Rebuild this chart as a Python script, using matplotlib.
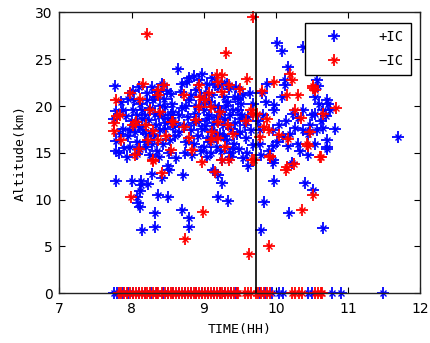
import matplotlib
matplotlib.use("Agg")
import matplotlib.pyplot as plt
from matplotlib.legend_handler import HandlerTuple

# +IC (blue) points: time (h), altitude (km)
blue_pts = [
    (7.77,22.1),(7.78,19.5),(7.76,18.6),(7.79,16.3),(7.78,15.2),(7.82,15.0),(7.79,12.0),
    (7.85,20.4),(7.88,17.6),(7.92,18.9),(7.95,16.8),(7.98,15.6),(8.02,21.6),(8.02,19.6),
    (8.05,17.2),(8.08,14.9),(8.10,17.8),(8.12,20.2),(8.15,19.6),(8.18,16.2),(8.20,15.6),
    (8.21,20.7),(8.24,18.5),(8.27,17.0),(8.30,20.7),(8.33,19.2),(8.35,15.2),(8.38,18.9),
    (8.40,17.4),(8.42,22.4),(8.43,16.0),(8.45,20.8),(8.47,19.9),(8.47,17.5),(8.50,18.6),
    (8.52,15.0),(8.55,21.3),(8.58,19.4),(8.60,18.2),(8.60,16.8),(8.62,14.5),(8.50,13.6),
    (8.64,24.0),(8.29,22.0),(8.10,22.0),(7.95,20.8),(8.00,18.4),(8.14,18.6),(8.25,14.8),
    (8.36,21.5),(8.44,19.0),(8.56,20.2),(8.08,16.2),(7.90,15.5),(8.31,16.8),(8.18,19.0),
    (7.84,17.0),(7.88,19.6),(7.93,14.6),(8.04,20.6),(8.12,15.4),(8.16,17.4),(8.22,21.4),
    (8.26,19.8),(8.28,16.0),(8.34,18.0),(8.38,14.6),(8.40,20.0),(8.46,18.2),(8.49,21.6),
    (8.53,16.4),(8.57,17.8),(7.98,17.4),(8.07,19.0),(8.20,17.0),(8.33,21.0),(8.54,19.0),
    (8.68,21.5),(8.70,19.8),(8.72,18.0),(8.75,16.2),(8.77,22.6),(8.80,20.6),(8.82,17.4),
    (8.84,14.8),(8.87,23.2),(8.88,19.2),(8.90,21.7),(8.92,16.8),(8.94,18.4),(8.96,15.2),
    (8.98,23.4),(9.00,20.2),(9.02,17.9),(9.04,22.4),(9.05,14.6),(9.07,19.0),(9.09,16.2),
    (9.11,21.2),(9.12,23.0),(9.14,18.2),(9.16,20.0),(9.18,15.6),(9.20,22.0),(9.22,17.0),
    (9.24,19.4),(9.26,14.2),(9.28,21.0),(9.30,18.6),(9.32,16.4),(9.34,20.4),(9.36,15.0),
    (9.38,17.6),(9.40,19.6),(9.42,16.0),(9.44,18.2),(9.47,20.8),(9.49,15.4),(9.51,17.2),
    (9.53,19.0),(9.55,14.4),(9.58,16.6),(9.62,18.8),(9.66,17.4),(9.69,15.8),(9.68,20.2),
    (8.66,17.2),(8.74,15.0),(8.86,18.2),(8.96,21.0),(9.06,16.6),(9.13,13.2),(9.20,12.6),
    (9.00,19.6),(9.10,15.0),(9.26,22.6),(9.35,21.8),(9.45,22.0),(9.55,21.2),(9.28,16.8),
    (9.38,14.6),(8.80,23.0),(9.62,13.6),
    (8.66,19.0),(8.70,22.4),(8.78,18.8),(8.83,21.2),(8.86,16.0),(8.90,20.0),(8.93,22.8),
    (8.97,17.6),(9.01,15.6),(9.03,21.4),(9.08,20.4),(9.12,17.4),(9.15,22.2),(9.17,16.8),
    (9.21,19.8),(9.24,15.2),(9.27,18.0),(9.31,20.0),(9.33,22.4),(9.36,19.0),(9.40,15.4),
    (9.43,21.0),(9.46,17.0),(9.50,18.6),(9.52,20.2),(9.57,18.0),(9.60,15.0),(9.64,21.4),
    (9.04,18.6),(9.18,18.8),(8.76,20.0),(9.48,19.6),
    (8.00,12.0),(8.13,12.0),(8.13,11.6),(8.23,11.7),(8.28,12.7),(8.42,12.3),(8.52,13.2),
    (8.71,12.6),(8.12,10.9),(8.07,10.3),(8.09,9.6),(8.11,9.2),(8.37,10.5),(8.51,10.3),
    (8.32,8.6),(8.15,6.8),(8.32,7.1),(8.70,8.9),(8.80,8.0),(8.79,7.1),(9.20,10.3),
    (9.34,9.9),(9.25,11.8),
    (9.98,12.0),(9.84,9.8),(9.79,6.8),(10.19,8.6),(10.41,11.8),(10.52,11.0),(10.66,7.0),
    (9.96,13.9),(10.71,15.6),(10.01,26.7),(10.08,25.9),(10.38,26.3),(11.70,16.7),(10.17,24.2),
    (10.13,22.8),(9.88,22.4),(9.81,21.4),(9.97,20.1),(10.08,21.0),(10.13,22.2),(10.57,22.8),
    (10.59,22.1),(10.54,21.0),(10.71,20.7),(10.73,20.2),(10.75,19.6),(10.70,18.9),(10.55,19.2),
    (10.38,19.6),(10.31,18.7),(10.24,19.2),(10.14,18.4),(9.98,19.6),(9.82,19.0),(9.78,17.4),
    (9.96,17.4),(10.10,16.7),(10.26,17.7),(10.38,17.4),(10.57,17.4),(10.66,17.7),(10.82,17.6),
    (10.71,16.4),(10.55,16.0),(10.71,15.4),(10.31,16.0),(10.17,15.7),(9.96,15.7),(9.78,16.0),
    (9.96,14.2),(9.80,14.8),(10.22,13.9),(10.45,14.8),(10.62,18.4),(10.48,18.0),(10.05,18.0),
    (9.86,20.4),(9.90,15.2),(10.02,16.2),(10.20,17.0),(10.34,15.2),(10.44,17.0),(10.60,20.2),
    (10.66,19.6),(10.50,19.0),(9.76,18.4),
]

# -IC (red) points: time (h), altitude (km)
red_pts = [
    (9.69,29.5),(8.22,27.7),(9.31,25.7),(9.60,22.9),
    (8.16,22.4),(7.79,20.6),(7.98,21.4),(8.37,21.7),(8.37,21.2),(7.84,19.0),(7.75,18.2),
    (7.75,17.3),(8.02,18.0),(8.06,18.3),(8.26,19.6),(8.30,17.3),(8.37,16.4),(8.23,16.4),
    (7.86,16.4),(8.56,18.3),(8.05,14.8),(8.30,14.2),(8.55,15.3),(7.80,18.9),(8.12,20.8),
    (8.45,22.3),(8.20,18.0),(8.48,16.8),(8.10,15.4),(8.40,19.4),
    (9.18,23.3),(9.25,23.3),(9.20,22.6),(8.93,22.3),(9.35,22.3),(8.72,21.2),(9.07,21.4),
    (9.26,21.5),(8.93,19.9),(9.10,19.9),(9.23,19.4),(8.58,18.3),(8.72,17.8),(8.90,18.5),
    (9.20,18.3),(9.34,18.0),(8.79,16.6),(9.10,16.4),(9.20,16.6),(8.84,15.3),(9.25,14.2),
    (9.35,14.2),(9.67,14.2),(9.65,19.6),(9.68,19.2),(9.02,20.6),(9.40,17.0),(8.98,14.0),
    (9.50,21.8),(9.12,17.2),(9.58,18.4),(8.95,21.0),(9.30,15.6),
    (7.99,10.3),(8.42,12.9),(8.30,14.1),(8.99,8.7),(8.74,5.8),(9.16,13.0),(9.63,4.2),
    (9.91,5.0),(10.36,8.9),(10.51,10.5),(10.14,13.2),(10.25,13.8),(9.70,14.2),(9.92,14.7),
    (10.61,14.6),
    (10.20,23.4),(10.22,22.8),(9.98,22.6),(9.81,21.6),(10.15,21.2),(10.31,21.2),(10.52,22.1),
    (10.54,21.7),(10.84,19.8),(10.66,19.2),(10.26,19.6),(10.35,18.7),(9.74,19.2),(9.88,18.6),
    (9.83,17.8),(9.90,17.4),(9.78,16.7),(10.05,16.9),(10.17,16.5),(10.48,17.2),(10.43,16.0),
    (10.45,15.7),(10.63,14.6),(9.92,14.6),(10.15,13.5),(10.52,21.9),
]

# points on the ground (altitude 0)
blue_ground_time = [7.75, 7.80, 7.88, 7.95, 8.02, 8.10, 8.18, 8.27, 8.35, 8.43, 8.50,
                    8.58, 8.66, 8.74, 8.82, 8.90, 8.98, 9.06, 9.14, 9.22, 9.30, 9.38,
                    9.45, 9.78, 9.85, 9.95, 10.05, 10.10, 10.45, 10.50, 10.78, 10.91, 11.49]
red_ground_time = [7.82, 7.86, 7.90, 7.94, 7.98, 8.02, 8.06, 8.10, 8.14, 8.18, 8.22,
                   8.26, 8.30, 8.34, 8.37, 8.42, 8.46, 8.50, 8.54, 8.58, 8.62, 8.66,
                   8.70, 8.74, 8.78, 8.82, 8.86, 8.90, 8.94, 8.98, 9.02, 9.06, 9.10,
                   9.14, 9.18, 9.22, 9.26, 9.30, 9.34, 9.38, 9.42, 9.46, 9.48, 9.57,
                   9.62, 9.66, 9.72, 9.76, 9.80, 9.84, 9.88, 9.92, 10.22, 10.27, 10.32,
                   10.36, 10.54, 10.58, 10.62, 10.64]

divider_time = 9.72
legend_labels = ['+IC', '\u2212IC']

blue_t = [p[0] for p in blue_pts] + blue_ground_time
blue_a = [p[1] for p in blue_pts] + [0.0] * len(blue_ground_time)
red_t = [p[0] for p in red_pts] + red_ground_time
red_a = [p[1] for p in red_pts] + [0.0] * len(red_ground_time)

fig = plt.figure(figsize=(4.31, 3.43), dpi=100)
ax = fig.add_axes([0.138, 0.145, 0.8365, 0.8186])

def stars(t, a, color):
    l1, = ax.plot(t, a, linestyle='none', marker='+', ms=8, mew=1.3, color=color, clip_on=False)
    l2, = ax.plot(t, a, linestyle='none', marker='x', ms=4.8, mew=1.0, color=color, clip_on=False)
    return (l1, l2)

hb = stars(blue_t, blue_a, 'blue')
hr = stars(red_t, red_a, 'red')

ax.axvline(divider_time, color='black', lw=1.2)

ax.set_xlim(7, 12)
ax.set_ylim(0, 30)
ax.set_xticks([7, 8, 9, 10, 11, 12])
ax.set_yticks([0, 5, 10, 15, 20, 25, 30])
ax.tick_params(direction='in', top=True, right=True, labelsize=10, length=4, width=0.8)
ax.tick_params(axis='x', pad=6)
ax.tick_params(axis='y', pad=5)
for s in ax.spines.values():
    s.set_linewidth(1.0)
    s.set_color('#222222')

ax.set_xlabel('TIME(HH)', family='DejaVu Sans Mono', fontsize=9.5, labelpad=5)
ax.set_ylabel('Altitude(km)', family='DejaVu Sans Mono', fontsize=9.5, labelpad=6)

leg = ax.legend([hb, hr], legend_labels, handler_map={tuple: HandlerTuple(ndivide=1)},
                loc='upper right', bbox_to_anchor=(0.974, 0.962), fancybox=False,
                edgecolor='black', framealpha=1, prop={'family': 'DejaVu Sans Mono', 'size': 10},
                handlelength=3.2, borderpad=0.5, labelspacing=0.7, handletextpad=1.6,
                borderaxespad=0)
leg.get_frame().set_linewidth(1.0)

fig.savefig('out.png', dpi=100)
